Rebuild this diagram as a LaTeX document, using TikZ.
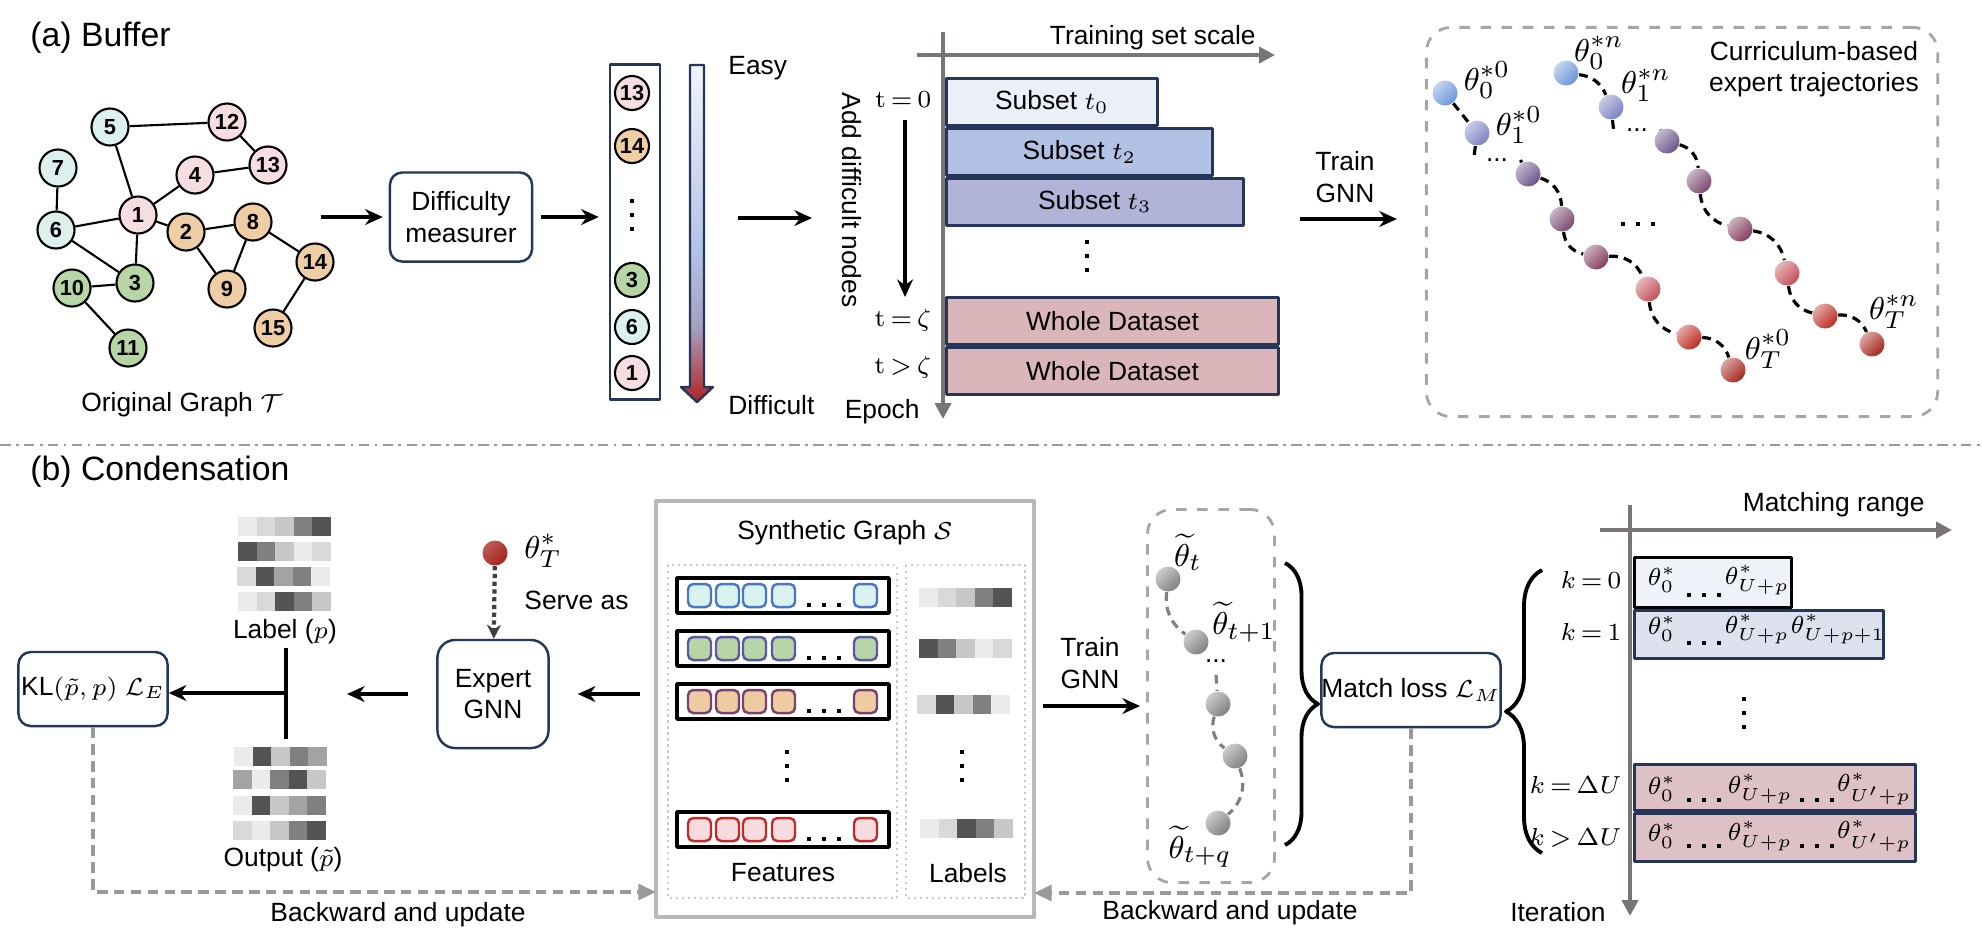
\documentclass[tikz,border=0pt]{standalone}
\usepackage[no-math]{fontspec}
\setmainfont{Liberation Sans}
\usetikzlibrary{arrows.meta,positioning,decorations.pathreplacing,shadings}
\definecolor{navy}{HTML}{26365A}
\definecolor{gcyan}{HTML}{DCF1EE}
\definecolor{gpink}{HTML}{F5DDE1}
\definecolor{gorange}{HTML}{F0CEA5}
\definecolor{ggreen}{HTML}{B8D6A5}
\definecolor{axgray}{HTML}{7A7575}
\definecolor{sub0}{HTML}{EBEFF8}
\definecolor{sub2}{HTML}{B2C2E5}
\definecolor{sub3}{HTML}{B1B4D8}
\definecolor{whole}{HTML}{DAB5BA}
\definecolor{kb0}{HTML}{EFF2F9}
\definecolor{kb1}{HTML}{DEE1EE}
\definecolor{kbd}{HTML}{DEC1C5}
\definecolor{tb1}{HTML}{6A94DA}
\definecolor{tb2}{HTML}{7A82C0}
\definecolor{tb3}{HTML}{6A5288}
\definecolor{tb4}{HTML}{774870}
\definecolor{tb5}{HTML}{823D5C}
\definecolor{tb6}{HTML}{C24E56}
\definecolor{tb7}{HTML}{BC2B22}
\definecolor{tb8}{HTML}{A5241B}
\definecolor{fcyan}{HTML}{DAF2F0}
\definecolor{bcyan}{HTML}{4A76C8}
\definecolor{fgreen}{HTML}{B7D5A7}
\definecolor{bgreen}{HTML}{5C5A9E}
\definecolor{forange}{HTML}{EFCBA1}
\definecolor{borange}{HTML}{7B4270}
\definecolor{fpink}{HTML}{F6DCDF}
\definecolor{bpink}{HTML}{C42A2A}
\definecolor{easyw}{HTML}{F3F4FA}
\definecolor{easyb}{HTML}{B4C4E7}
\definecolor{easym}{HTML}{A59FBF}
\definecolor{hardred}{HTML}{B22323}
\pgfdeclareverticalshading{easyhard}{100bp}{color(0bp)=(hardred); color(25bp)=(hardred); color(36bp)=(easym); color(48bp)=(easyb); color(75bp)=(easyw); color(100bp)=(easyw)}
\newcommand{\hsq}[2]{\foreach \k in {0,1,2} \fill ({#1+15*\k},#2) rectangle ++(4,-4);}
\newcommand{\vsq}[2]{\foreach \k in {0,1,2} \fill ({#1-2},{#2+14*\k}) rectangle ++(4,4);}
\newcommand{\gstrip}[3]{\foreach \g [count=\i from 0] in {#3} \fill[black!\g] ({#1+18.6*\i},#2) rectangle ++(18.6,19);}
\begin{document}
\begin{tikzpicture}[x=0.01cm, y=-0.01cm, line join=round, >=stealth]
\tikzset{
  every node/.style={font=\fontsize{7.5}{9}\selectfont},
  gnode/.style={circle, draw, line width=0.6pt, minimum size=0.37cm, inner sep=0pt, font=\fontsize{6.2}{7}\selectfont\bfseries},
  lnode/.style={gnode, minimum size=0.34cm},
  rbox/.style={draw=navy, line width=0.7pt, rounded corners=3.5pt, align=center, inner sep=0pt},
  arr/.style={-{Stealth[length=5pt,width=4.5pt]}, line width=1pt},
  axis/.style={draw=axgray, line width=1.3pt, -{Triangle[length=4.5pt,width=4.5pt]}},
  bar/.style={draw=navy, line width=0.8pt, anchor=north west, minimum height=0.47cm, inner sep=0pt},
  tball/.style={circle, minimum size=0.25cm, inner sep=0pt, top color=#1!40, bottom color=#1, shading angle=45},
  traj/.style={line width=0.9pt, dash pattern=on 2.5pt off 1.7pt},
  gtraj/.style={traj, draw=gray},
  dbox/.style={draw=gray!70, dashed, line width=0.8pt, rounded corners=7pt, inner sep=0pt},
  back/.style={draw=gray!80, line width=1pt, dash pattern=on 3pt off 1.8pt, -{Triangle[length=5pt,width=4.5pt]}},
  mth/.style={font=\fontsize{7.2}{9}\selectfont},
  klab/.style={font=\fontsize{7}{9}\selectfont, anchor=east, inner sep=0pt},
  tlab/.style={font=\fontsize{9.5}{11}\selectfont},
  brc/.style={line width=1.1pt, decorate, decoration={brace, amplitude=#1}}
}
\useasboundingbox (0,0) rectangle (1982,950);

\node[anchor=west, font=\fontsize{9.6}{11}\selectfont] at (18,38) {(a) Buffer};
\foreach \n/\x/\y/\c in {5/110/127/gcyan, 7/58/168/gcyan, 6/56/230/gcyan, 12/227/122/gpink, 13/268/165/gpink, 4/195/175/gpink, 1/138/215/gpink, 2/186/232/gorange, 8/253/222/gorange, 9/227/289/gorange, 14/315/262/gorange, 15/273/328/gorange, 10/72/288/ggreen, 3/135/283/ggreen, 11/128/348/ggreen}
  \node[gnode, fill=\c] (g\n) at (\x,\y) {\n};
\foreach \a/\b in {5/12, 12/13, 13/4, 4/1, 5/1, 7/6, 6/1, 6/3, 1/3, 1/2, 2/8, 2/9, 8/9, 8/14, 14/15, 10/3, 10/11}
  \draw[line width=0.6pt] (g\a) -- (g\b);
\node (gcap) at (182,405) {Original Graph $\mathcal{T}$};

\node[rbox, minimum width=1.42cm, minimum height=0.89cm] (dm) at (461,217) {Difficulty\\measurer};
\draw[arr, shorten >=0.06cm] ([xshift=-0.68cm]dm.west) -- (dm.west);
\node[draw=navy, line width=0.7pt, minimum width=0.5cm, minimum height=3.35cm, inner sep=0pt] (lst) at (635,232) {};
\draw[arr, shorten <=0.08cm, shorten >=0.1cm] (dm.east) -- (dm.east -| lst.west);
\foreach \n/\y/\c in {13/93/gpink, 14/146/gorange, 3/280/ggreen, 6/327/gcyan, 1/373/gpink}
  \node[lnode, fill=\c] (l\n) at (632,\y) {\n};
\vsq{632}{199}

\shadedraw[draw=navy, line width=0.7pt, shading=easyhard] (690,65) -- (704,65) -- (704,387) -- (713,387) -- (697,402) -- (681,387) -- (690,387) -- cycle;
\node[anchor=west] at (716,68) {Easy};
\node[anchor=west] at (716,405) {Difficult};
\coordinate (la) at (738,218);
\coordinate (lb) at (812,218);
\draw[arr] (la) -- (lb);

\node[rotate=-90] at (852,200) {Add difficult nodes};
\node[klab] (t0) at (932,100) {$\mathrm{t}\,{=}\,0$};
\node[klab] (tz) at (932,320) {$\mathrm{t}\,{=}\,\zeta$};
\node[klab] (tg) at (932,367) {$\mathrm{t}\,{>}\,\zeta$};
\coordinate (adds) at (905,120);
\coordinate (adde) at (905,297);
\draw[arr] (adds) -- (adde);
\draw[axis] (917,55) -- (1275,55);
\draw[axis] (943,32) -- (943,419);
\node[anchor=east] at (1268,38) {Training set scale};
\node[anchor=east] at (932,412) {Epoch};
\node[bar, fill=sub0, minimum width=2.11cm] (s0) at (945,77) {Subset $t_0$};
\node[bar, fill=sub2, minimum width=2.66cm] (s2) at (s0.south west) {Subset $t_2$};
\node[bar, fill=sub3, minimum width=2.97cm] (s3) at (s2.south west) {Subset $t_3$};
\vsq{1087}{240}
\node[bar, fill=whole, minimum width=3.32cm] (w1) at (945,296) {Whole Dataset};
\node[bar, fill=whole, minimum width=3.32cm] (w2) at (w1.south west) {Whole Dataset};

\node[align=center] at (1345,177) {Train\\GNN};
\node[dbox, minimum width=5.11cm, minimum height=3.89cm] (cbox) at (1682,222) {};
\coordinate (ta) at (1300,219);
\draw[arr, shorten >=0.28cm] (ta) -- (ta -| cbox.west);
\node[align=center] at (1814,69) {Curriculum-based\\expert trajectories};
\foreach \n/\x/\y/\c in {1/1445/93/tb1, 2/1477/133/tb2, 3/1528/174/tb3, 4/1562/219/tb4, 5/1596/257/tb5, 6/1648/289/tb6, 7/1689/337/tb7, 8/1733/370/tb8}
  \node[tball=\c] (a\n) at (\x,\y) {};
\foreach \n/\x/\y/\c in {1/1566/73/tb1, 2/1611/107/tb2, 3/1667/141/tb3, 4/1699/181/tb4, 5/1740/229/tb5, 6/1787/273/tb6, 7/1825/316/tb7, 8/1872/344/tb8}
  \node[tball=\c] (n\n) at (\x,\y) {};
\node (da) at (1497,160) {...};
\node (dn) at (1637,130) {...};
\draw[traj] (a1) -- (a2);
\draw[traj] (a2) -- (da.west);
\draw[traj] (da.east) -- (a3);
\foreach \p/\q/\s in {3/4/35, 4/5/-35, 5/6/35, 6/7/-35, 7/8/35}
  \draw[traj] (a\p) to[bend left=\s] (a\q);
\draw[traj] (n1) to[bend left=30] (n2);
\draw[traj] (n2) -- (dn.west);
\draw[traj] (dn.east) -- (n3);
\foreach \p/\q/\s in {3/4/35, 4/5/-35, 5/6/35, 6/7/-35, 7/8/35}
  \draw[traj] (n\p) to[bend left=\s] (n\q);
\hsq{1621}{226}
\node[tlab] at (1487,80) {$\theta_0^{*0}$};
\node[tlab] at (1519,125) {$\theta_1^{*0}$};
\node[tlab] at (1768,349) {$\theta_T^{*0}$};
\node[tlab] at (1599,53) {$\theta_0^{*n}$};
\node[tlab] at (1646,85) {$\theta_1^{*n}$};
\node[tlab] at (1894,312) {$\theta_T^{*n}$};

\draw[draw=gray!80, line width=0.7pt, dash pattern=on 3pt off 1.5pt on 0.8pt off 1.5pt] (0,445) -- (1982,445);

\node[anchor=west, font=\fontsize{9.6}{11}\selectfont] at (18,472) {(b) Condensation};
\gstrip{238}{517}{8,15,22,50,67}
\gstrip{238}{542}{67,50,22,8,15}
\gstrip{237}{567}{15,67,36,50,8}
\gstrip{238}{592}{8,15,67,50,22}
\node (lbl) at (285,632) {Label ($p$)};
\gstrip{234}{747}{8,67,22,50,36}
\gstrip{233}{770}{36,8,50,67,22}
\gstrip{233}{796}{8,67,22,36,50}
\gstrip{233}{821}{15,8,22,50,67}
\node (outp) at (283,860) {Output ($\tilde{p}$)};
\node[rbox, minimum width=1.49cm, minimum height=0.74cm] (kl) at (93,689) {KL$(\tilde{p},p)$ $\mathcal{L}_E$};
\coordinate (jt) at (286,648);
\coordinate (jb) at (286,739);
\coordinate (jm) at (286,693);
\draw[line width=1.2pt] (jt) -- (jb);
\draw[arr] (jm) -- (kl.east |- jm);
\node[rbox, rounded corners=5pt, minimum width=1.11cm, minimum height=1.08cm] (eg) at (493,694) {Expert\\GNN};
\draw[arr, shorten <=0.28cm, shorten >=0.61cm] (eg.west) -- (eg.west -| jm);
\node[circle, minimum size=0.25cm, inner sep=0pt, top color=tb8!75, bottom color=tb8, shading angle=45] (thT) at (495,553) {};
\node[tlab, anchor=west] at (512,551) {$\theta_T^*$};
\draw[densely dotted, line width=1.2pt, draw=black!75, -{Stealth[length=4pt,width=4pt]}] (thT) -- (eg);
\node[anchor=west] at (512,600) {Serve as};

\node[draw=gray!55, line width=1.1pt, minimum width=3.78cm, minimum height=4.16cm, inner sep=0pt] (syn) at (845,709) {};
\draw[arr, shorten <=0.14cm, shorten >=0.28cm] (syn.west |- eg.east) -- (eg.east);
\node at (845,533) {Synthetic Graph $\mathcal{S}$};
\draw[draw=gray!40, densely dotted, line width=0.7pt] (668,565) rectangle (897,898);
\draw[draw=gray!40, densely dotted, line width=0.7pt] (906,565) rectangle (1025,898);
\foreach \y/\fc/\bc in {578/fcyan/bcyan, 631/fgreen/bgreen, 684/forange/borange, 812/fpink/bpink} {
  \draw[line width=1pt] (677,\y) rectangle (889,{\y+35});
  \foreach \x in {688,716,743,772,854}
    \draw[draw=\bc, fill=\fc, line width=0.7pt, rounded corners=1.5pt] (\x,{\y+6}) rectangle ++(23,23);
  \hsq{807}{\y+29}
}
\vsq{787}{750}
\vsq{962}{750}
\gstrip{919}{588}{8,15,22,50,67}
\gstrip{919}{639}{67,50,22,8,15}
\gstrip{917}{695}{15,67,22,50,8}
\gstrip{920}{819}{8,15,67,50,22}
\node at (783,873) {Features};
\node at (968,873) {Labels};
\coordinate (synl) at (656,892);
\draw[back] (kl.south) |- (synl);
\node at (398,915) {Backward and update};

\node[align=center] at (1090,663) {Train\\GNN};
\node[dbox, minimum width=1.27cm, minimum height=3.73cm] (tbox) at (1211,696) {};
\coordinate (tgn) at (1043,706);
\draw[arr, shorten >=0.06cm] (tgn) -- (tgn -| tbox.west);
\foreach \n/\x/\y in {1/1168/579, 2/1196/642, 3/1218/704, 4/1235/756, 5/1218/823}
  \node[tball=gray] (m\n) at (\x,\y) {};
\node (dt) at (1216,661) {...};
\draw[gtraj] (m1) to[bend right=30] (m2);
\draw[gtraj] (dt.south) -- (m3);
\draw[gtraj] (m3) to[bend right=35] (m4);
\draw[gtraj] (m4) to[bend left=35] (m5);
\node[tlab] at (1188,552) {$\widetilde{\theta}_t$};
\node[tlab] at (1244,622) {$\widetilde{\theta}_{t+1}$};
\node[tlab] at (1200,847) {$\widetilde{\theta}_{t+q}$};
\draw[brc=0.33cm] (1285,563) -- (1285,845);
\node[rbox, minimum width=1.75cm, minimum height=0.74cm] (ml) at (1411,690) {Match loss $\mathcal{L}_M$};
\coordinate (synr) at (1034,893);
\draw[back] (ml.south) |- (synr);
\node at (1230,913) {Backward and update};
\draw[brc=0.36cm] (1542,853) -- (1542,570);

\draw[axis] (1600,530) -- (1952,530);
\draw[axis] (1630,505) -- (1630,916);
\node[anchor=east] at (1937,505) {Matching range};
\node[anchor=east] at (1618,912) {Iteration};
\node[bar, draw=black, fill=kb0, minimum width=1.57cm, minimum height=0.5cm] (k0) at (1633,556) {};
\node[bar, fill=kb1, minimum width=2.49cm, minimum height=0.48cm] (k1) at (k0.south west) {};
\node[bar, fill=kbd, minimum width=2.81cm, minimum height=0.46cm] (kd) at (1633,763) {};
\node[bar, fill=kbd, minimum width=2.81cm, minimum height=0.48cm] (kg) at (kd.south west) {};
\node[klab] at (1622,580) {$k\,{=}\,0$};
\node[klab] at (1622,632) {$k\,{=}\,1$};
\node[klab] at (1622,785) {$k\,{=}\,\Delta U$};
\node[klab] at (1622,838) {$k\,{>}\,\Delta U$};
\foreach \y in {580,629,789,836}
  \node[mth] at (1662,\y) {$\theta_0^*$};
\foreach \x/\y in {1757/580, 1757/629, 1760/789, 1760/836}
  \node[mth] at (\x,\y) {$\theta_{U+p}^*$};
\node[mth] at (1838,629) {$\theta_{U+p+1}^*$};
\foreach \y in {789,836}
  \node[mth] at (1874,\y) {$\theta_{U'+p}^*$};
\hsq{1687}{597}
\hsq{1687}{645}
\hsq{1687}{802}
\hsq{1800}{802}
\hsq{1687}{848}
\hsq{1800}{848}
\vsq{1744}{697}
\end{tikzpicture}
\end{document}
